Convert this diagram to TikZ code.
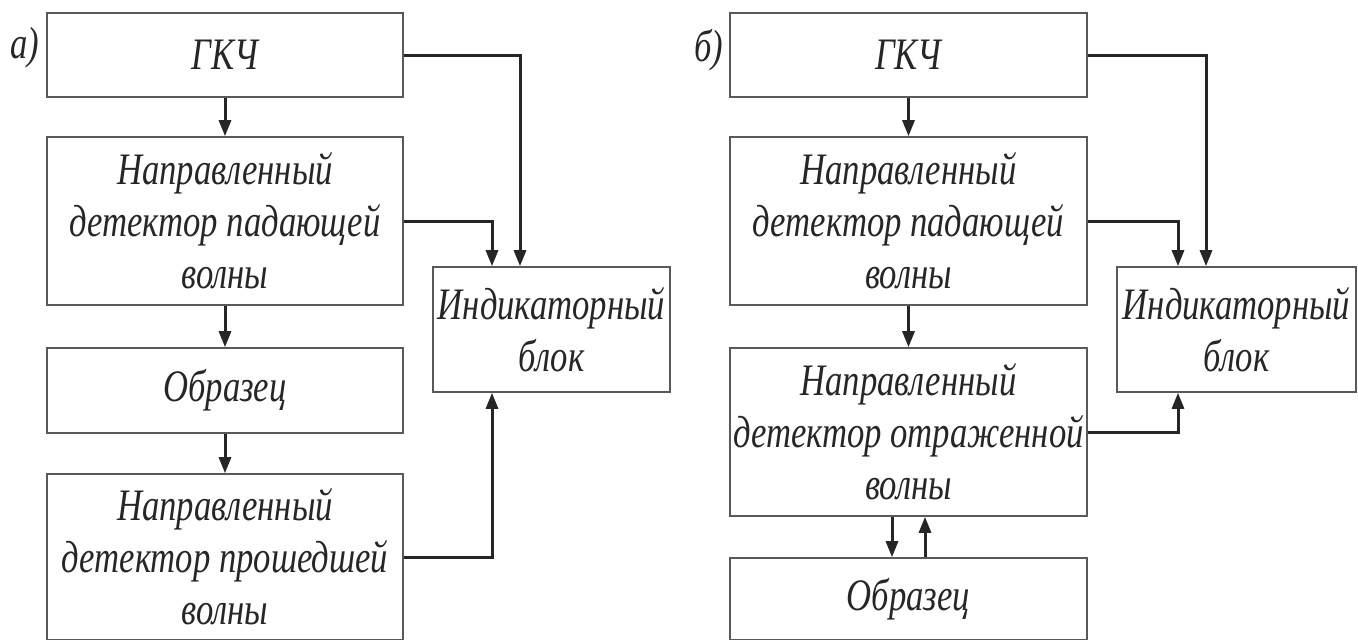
\documentclass[tikz,border=0pt]{standalone}
\usepackage{fontspec}
\newfontfamily\lab{Liberation Serif}[FakeStretch=0.77]
\usetikzlibrary{calc,arrows.meta}
\begin{document}
\begin{tikzpicture}[x=1pt,y=-1pt,
  blk/.style={draw=black!65,line width=1.6pt,fill=white,inner sep=0pt,align=center,
    text=black!85,font=\lab\itshape\fontsize{45}{52}\selectfont},
  con/.style={draw=black!85,line width=3pt,-{Triangle[length=16pt,width=12pt]}},
  tag/.style={text=black!85,font=\lab\itshape\fontsize{45}{52}\selectfont,inner sep=0pt}]
\useasboundingbox (0,0) rectangle (1358,640);
% left panel
\node[tag] (la) at (25,48) {а)};
\node[blk,minimum width=356pt,minimum height=84pt] (g1) at (225,55) {ГКЧ};
\node[blk,minimum width=356pt,minimum height=168pt] (d1) at (225,221) {Направленный\\детектор падающей\\волны};
\node[blk,minimum width=356pt,minimum height=85pt] (o1) at (225,390.5) {Образец};
\node[blk,minimum width=356pt,minimum height=166pt] (t1) at (225,557) {Направленный\\детектор прошедшей\\волны};
\node[blk,minimum width=237pt,minimum height=125pt] (i1) at (551.5,329.5) {Индикаторный\\блок};
\draw[con] (g1) -- (d1);
\draw[con] (d1) -- (o1);
\draw[con] (o1) -- (t1);
\draw[con] (g1.east) -| ($(i1.north)+(-31.5,0)$);
\draw[con] (d1.east) -| ($(i1.north)+(-59.5,0)$);
\draw[con] (t1.east) -| ($(i1.south)+(-59.5,0)$);
% right panel
\node[tag] (lb) at (709,50) {б)};
\node[blk,minimum width=357pt,minimum height=84pt] (g2) at (908.5,55) {ГКЧ};
\node[blk,minimum width=357pt,minimum height=168pt] (d2) at (908.5,221) {Направленный\\детектор падающей\\волны};
\node[blk,minimum width=357pt,minimum height=168pt] (r2) at (908.5,432) {Направленный\\детектор отраженной\\волны};
\node[blk,minimum width=357pt,minimum height=82pt] (o2) at (908.5,599) {Образец};
\node[blk,minimum width=239pt,minimum height=125pt] (i2) at (1236.5,329.5) {Индикаторный\\блок};
\draw[con] (g2) -- (d2);
\draw[con] (d2) -- (r2);
\draw[con] ($(r2.south)+(-16.5,0)$) -- ($(o2.north)+(-16.5,0)$);
\draw[con] ($(o2.north)+(16.5,0)$) -- ($(r2.south)+(16.5,0)$);
\draw[con] (g2.east) -| ($(i2.north)+(-30.5,0)$);
\draw[con] (d2.east) -| ($(i2.north)+(-58.5,0)$);
\draw[con] (r2.east) -| ($(i2.south)+(-58.5,0)$);
\end{tikzpicture}
\end{document}
